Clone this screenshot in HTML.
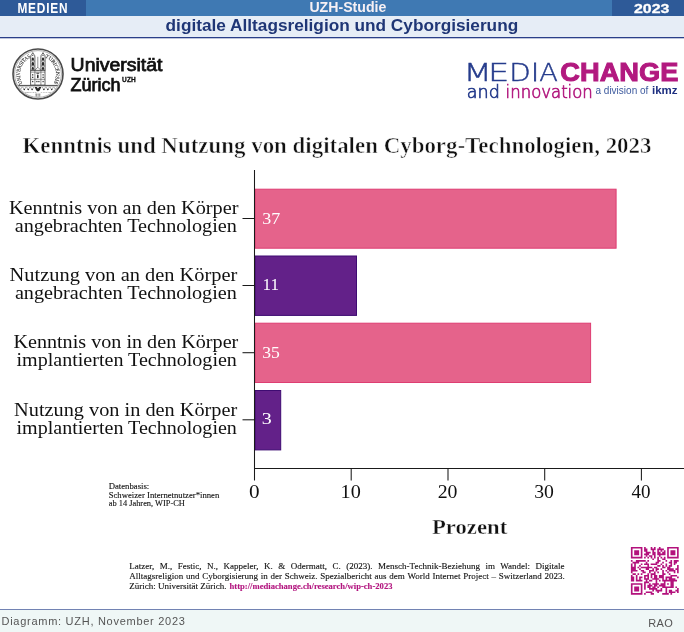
<!DOCTYPE html>
<html lang="de">
<head>
<meta charset="utf-8">
<title>Kenntnis und Nutzung von digitalen Cyborg-Technologien, 2023</title>
<style>
html,body{margin:0;padding:0;background:#fff;}
body{width:684px;height:632px;overflow:hidden;position:relative;}
svg{position:absolute;left:0;top:0;display:block;will-change:transform;}
.sans{font-family:"Liberation Sans",Arial,sans-serif;}
.serif{font-family:"Liberation Serif","Times New Roman",serif;}
</style>
</head>
<body>
<svg width="684" height="632" viewBox="0 0 684 632">
  <!-- top bar -->
  <rect x="0" y="0" width="684" height="16" fill="#3f79b3"/>
  <rect x="0" y="0" width="86" height="16" fill="#2e5a98"/>
  <rect x="612" y="0" width="72" height="16" fill="#2e5a98"/>
  <text class="sans" transform="translate(17.4,12.6) scale(0.86,1)" font-size="13.8" font-weight="700" fill="#fff" letter-spacing="0.95">MEDIEN</text>
  <text class="sans" x="309.4" y="12" font-size="14.2" font-weight="700" fill="#f6f0f4" textLength="77" lengthAdjust="spacingAndGlyphs">UZH-Studie</text>
  <text class="sans" x="634" y="12.9" font-size="13.6" font-weight="700" fill="#fff" stroke="#fff" stroke-width="0.3" textLength="35.4" lengthAdjust="spacingAndGlyphs">2023</text>

  <!-- subtitle strip -->
  <rect x="0" y="16" width="684" height="21" fill="#e6edf6"/>
  <rect x="0" y="37" width="684" height="1.3" fill="#2a3f89"/>
  <text class="sans" x="165.6" y="31.1" font-size="16" font-weight="700" fill="#1f3676" textLength="352.6" lengthAdjust="spacingAndGlyphs">digitale Alltagsreligion und Cyborgisierung</text>

  <!-- UZH seal -->
  <g transform="translate(38,74)">
    <defs>
      <path id="arcL" d="M-15.51,9.32 A18.1,18.1 0 0 1 -7.07,-16.66"/>
      <path id="arcR" d="M7.07,-16.66 A18.1,18.1 0 0 1 15.51,9.32"/>
      <clipPath id="sealclip"><circle r="23"/></clipPath>
    </defs>
    <circle r="25" fill="none" stroke="#4a4a4a" stroke-width="1.6"/>
    <circle r="23.4" fill="none" stroke="#8a8a8a" stroke-width="0.7"/>
    <text font-family="Liberation Serif,serif" font-size="5.3" fill="#2a2a2a" stroke="#2a2a2a" stroke-width="0.12"><textPath href="#arcL" textLength="30.4" lengthAdjust="spacingAndGlyphs">UNIVERSITAS</textPath></text>
    <text font-family="Liberation Serif,serif" font-size="5.3" fill="#2a2a2a" stroke="#2a2a2a" stroke-width="0.12"><textPath href="#arcR" textLength="30.4" lengthAdjust="spacingAndGlyphs">TURICENSIS</textPath></text>
    <g stroke="#333" stroke-width="0.75" fill="#fff">
      <path d="M-7.3,-3.7 V-17 Q-7.3,-19 -6.1,-19.8 L-5.2,-21.4 L-4.3,-19.8 Q-3.1,-19 -3.1,-17 V-3.7 Z"/>
      <path d="M2.9,-3.7 V-17 Q2.9,-19 4.1,-19.8 L5.0,-21.4 L5.9,-19.8 Q7.1,-19 7.1,-17 V-3.7 Z"/>
      <rect x="-7.3" y="-3.7" width="14.3" height="14.8"/>
    </g>
    <g stroke="#333" stroke-width="0.55" fill="none">
      <path d="M-3.1,-3.7 L-0.2,-6.8 L2.9,-3.7"/>
      <line x1="-0.2" y1="-6.8" x2="-0.2" y2="-17.2"/>
      <line x1="-7.3" y1="-13" x2="-3.1" y2="-13"/>
      <line x1="2.9" y1="-13" x2="7.1" y2="-13"/>
      <line x1="-7.3" y1="-8" x2="-3.1" y2="-8"/>
      <line x1="2.9" y1="-8" x2="7.1" y2="-8"/>
      <line x1="-7.3" y1="-1.9" x2="7" y2="-1.9"/>
      <line x1="-7.3" y1="5.3" x2="7" y2="5.3"/>
      <line x1="-3.1" y1="-3.7" x2="-3.1" y2="11.1"/>
      <line x1="2.9" y1="-3.7" x2="2.9" y2="11.1"/>
    </g>
    <g fill="#2a2a2a">
      <ellipse cx="-5.2" cy="-18.6" rx="0.55" ry="0.7"/>
      <ellipse cx="5.0" cy="-18.6" rx="0.55" ry="0.7"/>
      <path d="M-6.3,-13.6 V-15.2 A1.1,1.3 0 0 1 -4.1,-15.2 V-13.6 Z"/>
      <path d="M3.9,-13.6 V-15.2 A1.1,1.3 0 0 1 6.1,-15.2 V-13.6 Z"/>
      <path d="M-6.4,-8.6 V-10.6 A1.2,1.4 0 0 1 -4.0,-10.6 V-8.6 Z"/>
      <path d="M3.8,-8.6 V-10.6 A1.2,1.4 0 0 1 6.2,-10.6 V-8.6 Z"/>
      <path d="M-6.3,-4.2 V-5.8 A1.1,1.3 0 0 1 -4.1,-5.8 V-4.2 Z"/>
      <path d="M3.9,-4.2 V-5.8 A1.1,1.3 0 0 1 6.1,-5.8 V-4.2 Z"/>
      <rect x="-1.6" y="-1.2" width="2.8" height="0.9"/>
      <rect x="-1.0" y="0.6" width="1.6" height="3.6" rx="0.8"/>
      <rect x="-5.9" y="0.2" width="1.2" height="1.3"/>
      <rect x="4.5" y="0.2" width="1.2" height="1.3"/>
      <rect x="-5.9" y="2.7" width="1.2" height="1.3"/>
      <rect x="4.5" y="2.7" width="1.2" height="1.3"/>
      <rect x="-5.9" y="6.9" width="1.2" height="1.3"/>
      <rect x="-1.7" y="6.9" width="1.2" height="1.3"/>
      <rect x="0.3" y="6.9" width="1.2" height="1.3"/>
      <rect x="4.5" y="6.9" width="1.2" height="1.3"/>
    </g>
    <g clip-path="url(#sealclip)">
      <rect x="-24" y="10.9" width="48" height="1.4" fill="#5a5a5a"/>
      <path d="M-19.3,12.9 L-17.6,15.8 L-15.9,12.9 M-15.4,12.9 L-13.7,15.8 L-12.0,12.9 M-11.5,12.9 L-9.8,15.8 L-8.1,12.9 M-7.6,12.9 L-5.9,15.8 L-4.2,12.9 M4.2,12.9 L5.9,15.8 L7.6,12.9 M8.1,12.9 L9.8,15.8 L11.5,12.9 M12.0,12.9 L13.7,15.8 L15.4,12.9 M15.9,12.9 L17.6,15.8 L19.3,12.9 " fill="none" stroke="#666" stroke-width="0.55"/>
      <g fill="#2a2a2a"><circle cx="-17.6" cy="15.6" r="0.75"/><circle cx="-13.7" cy="15.6" r="0.75"/><circle cx="-9.8" cy="15.6" r="0.75"/><circle cx="-5.9" cy="15.6" r="0.75"/><circle cx="5.9" cy="15.6" r="0.75"/><circle cx="9.8" cy="15.6" r="0.75"/><circle cx="13.7" cy="15.6" r="0.75"/><circle cx="17.6" cy="15.6" r="0.75"/></g>
      <path d="M-3.4,12.9 L-1.2,12.9 L-0.1,14.6 L1.1,12.9 L3.4,12.9 L1.6,16.6 Q-0.1,18.2 -1.7,16.6 Z" fill="#2a2a2a"/>
      <text x="-13" y="18.6" font-family="Liberation Serif,serif" font-size="2.4" fill="#555" textLength="26" lengthAdjust="spacingAndGlyphs">MDCCC · XXXIII</text>
      <path d="M-3,20.2 H2.6 M-3,22 H2.6 M-1.6,19.6 V22.6 M1.2,19.6 V22.6" stroke="#555" stroke-width="0.5" fill="none"/>
    </g>
  </g>

  <!-- UZH wordmark -->
  <text class="sans" x="70.6" y="70.9" font-size="18" font-weight="400" fill="#111" stroke="#111" stroke-width="0.75" textLength="91.9" lengthAdjust="spacingAndGlyphs">Universität</text>
  <text class="sans" x="70.6" y="90.9" font-size="18" font-weight="400" fill="#111" stroke="#111" stroke-width="0.75" textLength="50" lengthAdjust="spacingAndGlyphs">Zürich</text>
  <text class="sans" x="122" y="81.9" font-size="6.5" font-weight="700" fill="#111" stroke="#111" stroke-width="0.3" textLength="13.8" lengthAdjust="spacing">UZH</text>

  <!-- MEDIACHANGE logo -->
  <g font-family="DejaVu Sans" font-size="24.4" font-weight="200" fill="#263c8c" stroke="#263c8c" stroke-width="0.4">
    <text transform="translate(463.4,81.2) scale(1.346,1)">M</text>
    <text transform="translate(488.1,81.2) scale(1.38,1)">E</text>
    <text transform="translate(509.2,81.2) scale(1.143,1)">D</text>
    <text transform="translate(531.6,81.2)" stroke-width="0.8">I</text>
    <text transform="translate(539.3,81.2) scale(1.12,1)">A</text>
  </g>
  <text class="sans" x="560.3" y="81.3" font-size="26" font-weight="700" fill="#b2197f" textLength="118" lengthAdjust="spacingAndGlyphs" stroke="#b2197f" stroke-width="1">CHANGE</text>
  <text x="466.8" y="97.9" font-family="DejaVu Sans" font-weight="200" font-size="18" fill="#263c8c" stroke="#263c8c" stroke-width="0.7" textLength="33" lengthAdjust="spacingAndGlyphs">and</text>
  <text x="505.6" y="97.9" font-family="DejaVu Sans" font-weight="200" font-size="18" fill="#b2197f" stroke="#b2197f" stroke-width="0.7" textLength="87.2" lengthAdjust="spacingAndGlyphs">innovation</text>
  <text class="sans" x="595.5" y="93.7" font-size="10" fill="#3d5a9e">a division of</text>
  <text class="sans" x="652" y="93.7" font-size="11" font-weight="700" fill="#1d2f80" textLength="25.6" lengthAdjust="spacingAndGlyphs">ikmz</text>

  <!-- Chart title -->
  <text class="serif" x="22.5" y="152.5" font-size="22.6" font-weight="700" fill="#111" stroke="#fff" stroke-width="0.55" textLength="629" lengthAdjust="spacingAndGlyphs">Kenntnis und Nutzung von digitalen Cyborg-Technologien, 2023</text>

  <!-- bars -->
  <rect x="255" y="189.2" width="361.1" height="59" fill="#e5638b" stroke="#de3d72" stroke-width="1"/>
  <rect x="255" y="256" width="101.5" height="59.4" fill="#632189" stroke="#3e0b72" stroke-width="1"/>
  <rect x="255" y="323.2" width="335.6" height="59.3" fill="#e5638b" stroke="#de3d72" stroke-width="1"/>
  <rect x="255" y="390.5" width="25.7" height="59.4" fill="#632189" stroke="#3e0b72" stroke-width="1"/>

  <!-- value labels -->
  <g class="serif" font-size="17.6" fill="#fff" lengthAdjust="spacingAndGlyphs">
    <text x="262.2" y="224.3" textLength="18" lengthAdjust="spacingAndGlyphs">37</text>
    <text x="262.6" y="289.9" textLength="16.5" lengthAdjust="spacingAndGlyphs">11</text>
    <text x="262.2" y="358.4" textLength="17.6" lengthAdjust="spacingAndGlyphs">35</text>
    <text x="261.8" y="424.4" textLength="10" lengthAdjust="spacingAndGlyphs">3</text>
  </g>

  <!-- axes -->
  <g stroke="#1a1a1a" stroke-width="1.05" fill="none">
    <line x1="254.5" y1="170" x2="254.5" y2="480.5"/>
    <line x1="254" y1="468.5" x2="684" y2="468.5"/>
    <line x1="242.5" y1="218.5" x2="254.5" y2="218.5"/>
    <line x1="242.5" y1="285.5" x2="254.5" y2="285.5"/>
    <line x1="242.5" y1="352.7" x2="254.5" y2="352.7"/>
    <line x1="242.5" y1="419.8" x2="254.5" y2="419.8"/>
    <line x1="351.2" y1="468.5" x2="351.2" y2="480.5"/>
    <line x1="448" y1="468.5" x2="448" y2="480.5"/>
    <line x1="544.7" y1="468.5" x2="544.7" y2="480.5"/>
    <line x1="641.4" y1="468.5" x2="641.4" y2="480.5"/>
  </g>

  <!-- x tick labels -->
  <g class="serif" font-size="18.4" fill="#111">
    <text x="248.9" y="498.4" textLength="10.6" lengthAdjust="spacingAndGlyphs">0</text>
    <text x="340.6" y="498.4" textLength="20.2" lengthAdjust="spacingAndGlyphs">10</text>
    <text x="437.7" y="498.4" textLength="19.8" lengthAdjust="spacingAndGlyphs">20</text>
    <text x="534.2" y="498.4" textLength="19.7" lengthAdjust="spacingAndGlyphs">30</text>
    <text x="631.6" y="498.4" textLength="19" lengthAdjust="spacingAndGlyphs">40</text>
  </g>
  <text class="serif" x="432" y="534" font-size="20.5" font-weight="700" fill="#111" stroke="#fff" stroke-width="0.35" textLength="75.2" lengthAdjust="spacingAndGlyphs">Prozent</text>

  <!-- category labels -->
  <g class="serif" font-size="18" fill="#111" lengthAdjust="spacingAndGlyphs">
    <text x="9" y="214.0" textLength="229.4" lengthAdjust="spacingAndGlyphs">Kenntnis von an den Körper</text>
    <text x="14.7" y="231.8" textLength="222.2" lengthAdjust="spacingAndGlyphs">angebrachten Technologien</text>
    <text x="9.6" y="281.4" textLength="227.8" lengthAdjust="spacingAndGlyphs">Nutzung von an den Körper</text>
    <text x="14.9" y="299.4" textLength="222" lengthAdjust="spacingAndGlyphs">angebrachten Technologien</text>
    <text x="13.4" y="348.3" textLength="224.9" lengthAdjust="spacingAndGlyphs">Kenntnis von in den Körper</text>
    <text x="16.5" y="366.4" textLength="220.4" lengthAdjust="spacingAndGlyphs">implantierten Technologien</text>
    <text x="14.1" y="415.7" textLength="223.2" lengthAdjust="spacingAndGlyphs">Nutzung von in den Körper</text>
    <text x="16.5" y="433.8" textLength="220.4" lengthAdjust="spacingAndGlyphs">implantierten Technologien</text>
  </g>

  <!-- note -->
  <g class="serif" font-size="8.6" fill="#111" stroke="#111" stroke-width="0.12">
    <text x="108.7" y="488.6" textLength="40.6" lengthAdjust="spacingAndGlyphs">Datenbasis:</text>
    <text x="108.7" y="497.5" textLength="110.6" lengthAdjust="spacingAndGlyphs">Schweizer Internetnutzer*innen</text>
    <text x="108.7" y="506.2" textLength="76.2" lengthAdjust="spacingAndGlyphs">ab 14 Jahren, WIP-CH</text>
  </g>

  <!-- citation -->
  <g class="serif" font-size="9" fill="#111" stroke="#111" stroke-width="0.12">
    <text x="129.3" y="569.2" word-spacing="3.28">Latzer, M., Festic, N., Kappeler, K. &amp; Odermatt, C. (2023). Mensch-Technik-Beziehung im Wandel: Digitale</text>
    <text x="129.3" y="579.1" word-spacing="0.5">Alltagsreligion und Cyborgisierung in der Schweiz. Spezialbericht aus dem World Internet Project – Switzerland 2023.</text>
    <text x="129.3" y="588.9">Zürich: Universität Zürich.</text>
    <text x="229.5" y="588.9" font-weight="700" fill="#b2157f" stroke="#b2157f" textLength="163" lengthAdjust="spacingAndGlyphs">http://mediachange.ch/research/wip-ch-2023</text>
  </g>

  <!-- QR code -->
  <path transform="translate(630.9,546.9) scale(1.648)" fill="#b3117c" d="M0 0h7v1h-7zM8 0h1v1h-1zM12 0h1v1h-1zM14 0h1v1h-1zM17 0h1v1h-1zM22 0h7v1h-7zM0 1h1v1h-1zM6 1h1v1h-1zM8 1h2v1h-2zM12 1h3v1h-3zM16 1h4v1h-4zM22 1h1v1h-1zM28 1h1v1h-1zM0 2h1v1h-1zM2 2h3v1h-3zM6 2h1v1h-1zM8 2h2v1h-2zM13 2h1v1h-1zM16 2h1v1h-1zM18 2h1v1h-1zM20 2h1v1h-1zM22 2h1v1h-1zM24 2h3v1h-3zM28 2h1v1h-1zM0 3h1v1h-1zM2 3h3v1h-3zM6 3h1v1h-1zM9 3h3v1h-3zM13 3h2v1h-2zM16 3h2v1h-2zM19 3h2v1h-2zM22 3h1v1h-1zM24 3h3v1h-3zM28 3h1v1h-1zM0 4h1v1h-1zM2 4h3v1h-3zM6 4h1v1h-1zM8 4h3v1h-3zM13 4h2v1h-2zM16 4h5v1h-5zM22 4h1v1h-1zM24 4h3v1h-3zM28 4h1v1h-1zM0 5h1v1h-1zM6 5h1v1h-1zM9 5h1v1h-1zM11 5h2v1h-2zM14 5h1v1h-1zM17 5h1v1h-1zM22 5h1v1h-1zM28 5h1v1h-1zM0 6h7v1h-7zM8 6h1v1h-1zM10 6h1v1h-1zM12 6h1v1h-1zM14 6h1v1h-1zM16 6h1v1h-1zM18 6h1v1h-1zM20 6h1v1h-1zM22 6h7v1h-7zM13 7h1v1h-1zM16 7h1v1h-1zM19 7h2v1h-2zM0 8h1v1h-1zM3 8h6v1h-6zM10 8h1v1h-1zM16 8h2v1h-2zM21 8h1v1h-1zM24 8h1v1h-1zM26 8h3v1h-3zM1 9h4v1h-4zM9 9h1v1h-1zM15 9h2v1h-2zM19 9h1v1h-1zM23 9h2v1h-2zM26 9h2v1h-2zM0 10h1v1h-1zM2 10h1v1h-1zM6 10h1v1h-1zM8 10h3v1h-3zM12 10h4v1h-4zM18 10h1v1h-1zM21 10h1v1h-1zM24 10h1v1h-1zM26 10h1v1h-1zM0 11h1v1h-1zM2 11h1v1h-1zM5 11h1v1h-1zM10 11h1v1h-1zM16 11h2v1h-2zM19 11h1v1h-1zM21 11h1v1h-1zM23 11h2v1h-2zM28 11h1v1h-1zM0 12h3v1h-3zM4 12h1v1h-1zM6 12h7v1h-7zM14 12h2v1h-2zM19 12h2v1h-2zM22 12h2v1h-2zM28 12h1v1h-1zM0 13h3v1h-3zM5 13h1v1h-1zM9 13h2v1h-2zM13 13h1v1h-1zM15 13h2v1h-2zM18 13h1v1h-1zM22 13h4v1h-4zM27 13h2v1h-2zM0 14h4v1h-4zM6 14h2v1h-2zM11 14h3v1h-3zM15 14h1v1h-1zM19 14h1v1h-1zM21 14h1v1h-1zM23 14h4v1h-4zM28 14h1v1h-1zM0 15h1v1h-1zM7 15h2v1h-2zM11 15h1v1h-1zM14 15h1v1h-1zM16 15h1v1h-1zM19 15h1v1h-1zM22 15h1v1h-1zM26 15h1v1h-1zM28 15h1v1h-1zM1 16h2v1h-2zM4 16h1v1h-1zM6 16h1v1h-1zM10 16h1v1h-1zM12 16h3v1h-3zM19 16h2v1h-2zM23 16h1v1h-1zM0 17h1v1h-1zM3 17h1v1h-1zM8 17h3v1h-3zM12 17h1v1h-1zM14 17h2v1h-2zM17 17h3v1h-3zM24 17h4v1h-4zM0 18h2v1h-2zM3 18h1v1h-1zM5 18h2v1h-2zM8 18h1v1h-1zM10 18h1v1h-1zM12 18h1v1h-1zM14 18h2v1h-2zM17 18h3v1h-3zM21 18h4v1h-4zM28 18h1v1h-1zM0 19h2v1h-2zM3 19h1v1h-1zM5 19h1v1h-1zM8 19h3v1h-3zM13 19h4v1h-4zM19 19h1v1h-1zM21 19h1v1h-1zM23 19h4v1h-4zM0 20h2v1h-2zM3 20h4v1h-4zM9 20h1v1h-1zM11 20h2v1h-2zM15 20h1v1h-1zM17 20h1v1h-1zM19 20h9v1h-9zM8 21h3v1h-3zM15 21h1v1h-1zM20 21h1v1h-1zM24 21h2v1h-2zM0 22h7v1h-7zM8 22h1v1h-1zM11 22h1v1h-1zM13 22h4v1h-4zM18 22h3v1h-3zM22 22h1v1h-1zM24 22h2v1h-2zM0 23h1v1h-1zM6 23h1v1h-1zM8 23h1v1h-1zM10 23h3v1h-3zM14 23h2v1h-2zM17 23h4v1h-4zM24 23h2v1h-2zM0 24h1v1h-1zM2 24h3v1h-3zM6 24h1v1h-1zM8 24h1v1h-1zM10 24h2v1h-2zM13 24h2v1h-2zM16 24h1v1h-1zM19 24h7v1h-7zM27 24h1v1h-1zM0 25h1v1h-1zM2 25h3v1h-3zM6 25h1v1h-1zM8 25h1v1h-1zM11 25h5v1h-5zM18 25h1v1h-1zM21 25h1v1h-1zM28 25h1v1h-1zM0 26h1v1h-1zM2 26h3v1h-3zM6 26h1v1h-1zM13 26h1v1h-1zM15 26h4v1h-4zM21 26h1v1h-1zM23 26h2v1h-2zM27 26h2v1h-2zM0 27h1v1h-1zM6 27h1v1h-1zM9 27h4v1h-4zM16 27h1v1h-1zM21 27h1v1h-1zM23 27h4v1h-4zM28 27h1v1h-1zM0 28h7v1h-7zM8 28h1v1h-1zM12 28h2v1h-2zM19 28h4v1h-4zM24 28h1v1h-1z"/>

  <!-- footer -->
  <rect x="0" y="609" width="684" height="23" fill="#eff7f6"/>
  <rect x="0" y="609" width="684" height="1" fill="#7283b3"/>
  <text class="sans" x="1.5" y="624.8" font-size="11" fill="#555" textLength="183.4" lengthAdjust="spacing">Diagramm: UZH, November 2023</text>
  <text class="sans" x="648.3" y="627.1" font-size="11" fill="#555" textLength="24.5" lengthAdjust="spacing">RAO</text>
</svg>
</body>
</html>
